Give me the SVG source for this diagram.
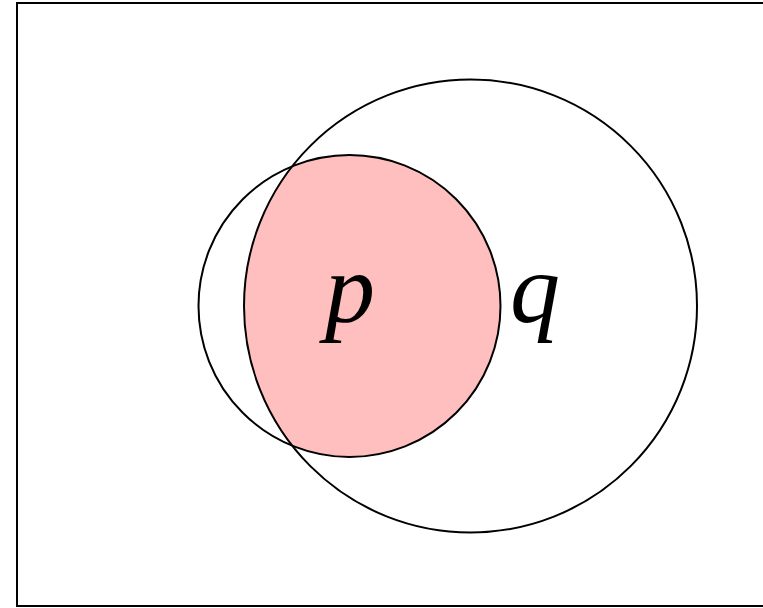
<svg xmlns="http://www.w3.org/2000/svg" width="763" height="608" viewBox="0 0 763 608">
<style>
.c{fill:none;stroke:#000;stroke-width:2}
.t{font-family:"Liberation Serif","DejaVu Serif",serif;font-style:italic;font-size:100px;fill:#000}
</style>
<defs>
<clipPath id="clipq"><circle cx="470.5" cy="306" r="226.5"/></clipPath>
</defs>
<rect x="0" y="0" width="763" height="608" fill="#fff"/>
<rect x="17" y="3" width="760" height="603" fill="none" stroke="#000" stroke-width="2"/>
<g id="intersection">
<circle cx="349.5" cy="306" r="151" fill="#ffbfbf" clip-path="url(#clipq)"/>
</g>
<g id="p">
<circle class="c" cx="349.5" cy="306" r="151"/>
<text class="t" x="350" y="322" text-anchor="middle">p</text>
</g>
<g id="q">
<circle class="c" cx="470.5" cy="306" r="226.5"/>
<text class="t" x="535" y="322" text-anchor="middle">q</text>
</g>
</svg>
